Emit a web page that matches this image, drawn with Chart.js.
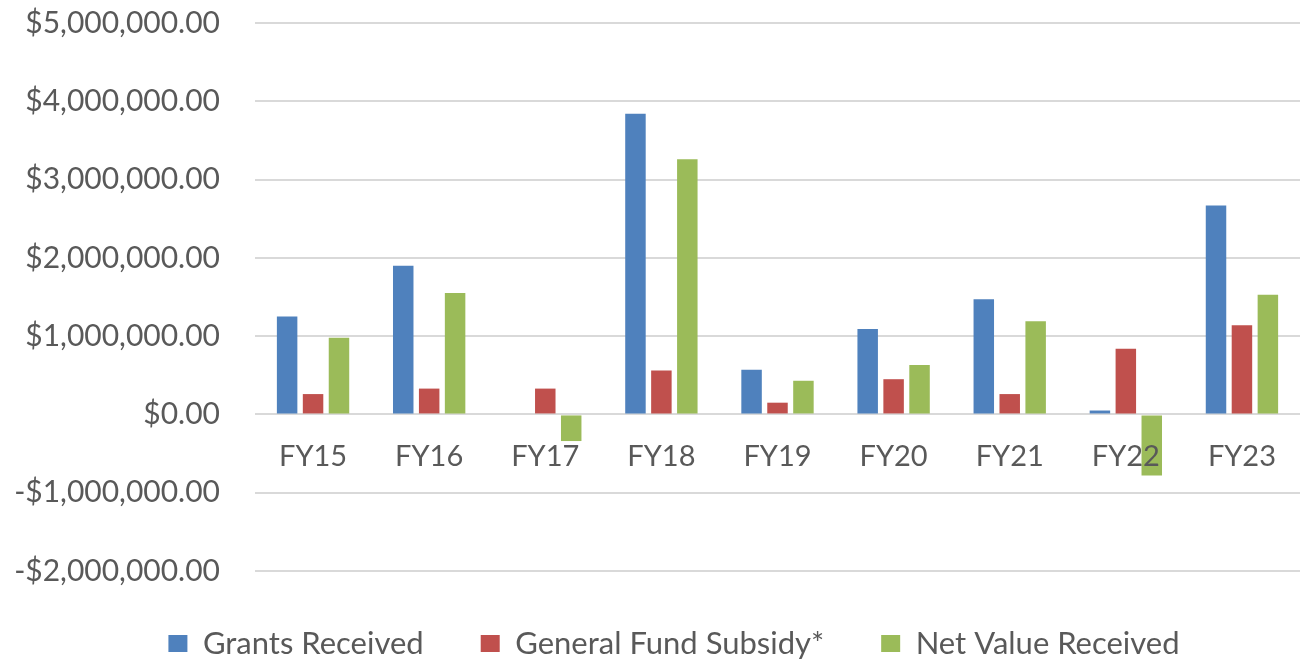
<!DOCTYPE html>
<html>
<head>
<meta charset="utf-8">
<script src="https://cdn.jsdelivr.net/npm/chart.js@4/dist/chart.umd.min.js"></script>
<style>
  html, body { margin: 0; padding: 0; background: #fff; }
  #wrap { width: 1314px; height: 659px; }
</style>
</head>
<body>
<div id="wrap"><canvas id="chart"></canvas></div>
<script>
// data
const categories = ["FY15", "FY16", "FY17", "FY18", "FY19", "FY20", "FY21", "FY22", "FY23"];
const grantsReceived = [1250000, 1900000, 0, 3840000, 570000, 1090000, 1470000, 50000, 2670000];
const generalFundSubsidy = [260000, 330000, 330000, 560000, 150000, 450000, 260000, 840000, 1140000];
const netValueReceived = [980000, 1550000, -340000, 3260000, 430000, 630000, 1190000, -780000, 1530000];
const seriesNames = ["Grants Received", "General Fund Subsidy*", "Net Value Received"];
const yTickValues = [-2000000, -1000000, 0, 1000000, 2000000, 3000000, 4000000, 5000000];

const textColor = "#595959";
const fontFamily = "Lato, 'Open Sans', sans-serif";

function money(v) {
  const s = "$" + Math.abs(v).toLocaleString("en-US", { minimumFractionDigits: 2, maximumFractionDigits: 2 });
  return v < 0 ? "-" + s : s;
}

// legend sits low, with a gap above it, nudged a bit right
const legendSpacing = {
  id: "legendSpacing",
  beforeInit(chart) {
    const fit = chart.legend.fit;
    chart.legend.fit = function () {
      fit.call(this);
      this.height = 88;
    };
  },
  afterLayout(chart) {
    chart.legend.left += 24;
    chart.legend.right += 24;
  },
};

new Chart(document.getElementById("chart"), {
  type: "bar",
  data: {
    labels: categories,
    datasets: [
      { label: seriesNames[0], data: grantsReceived, backgroundColor: "#4F81BD" },
      { label: seriesNames[1], data: generalFundSubsidy, backgroundColor: "#C0504D" },
      { label: seriesNames[2], data: netValueReceived, backgroundColor: "#9BBB59" },
    ],
  },
  options: {
    responsive: true,
    maintainAspectRatio: false,
    animation: false,
    categoryPercentage: 0.67,
    barPercentage: 0.79,
    layout: { padding: { top: 23, right: 14, bottom: 0, left: 0 } },
    plugins: {
      tooltip: { enabled: false },
      legend: {
        position: "bottom",
        labels: {
          color: textColor,
          font: { family: fontFamily, size: 31 },
          boxWidth: 19,
          boxHeight: 17,
          padding: 57,
        },
      },
    },
    scales: {
      x: {
        position: { y: 0 },
        grid: { display: false },
        border: { display: false },
        ticks: {
          z: 1, // labels over the bars, like FY22
          color: textColor,
          font: { family: fontFamily, size: 29 },
          padding: 17,
        },
      },
      y: {
        min: -2000000,
        max: 5000000,
        afterBuildTicks(scale) {
          scale.ticks = yTickValues.map((v) => ({ value: v }));
        },
        afterFit(scale) {
          scale.width = 255;
          scale.paddingTop = 0;
          scale.paddingBottom = 0;
        },
        grid: { color: "#d9d9d9", lineWidth: 2, drawTicks: false },
        border: { display: false },
        ticks: {
          color: textColor,
          font: { family: fontFamily, size: 30 },
          padding: 35,
          callback: (v) => money(v),
        },
      },
    },
  },
  plugins: [legendSpacing],
});
</script>
</body>
</html>
